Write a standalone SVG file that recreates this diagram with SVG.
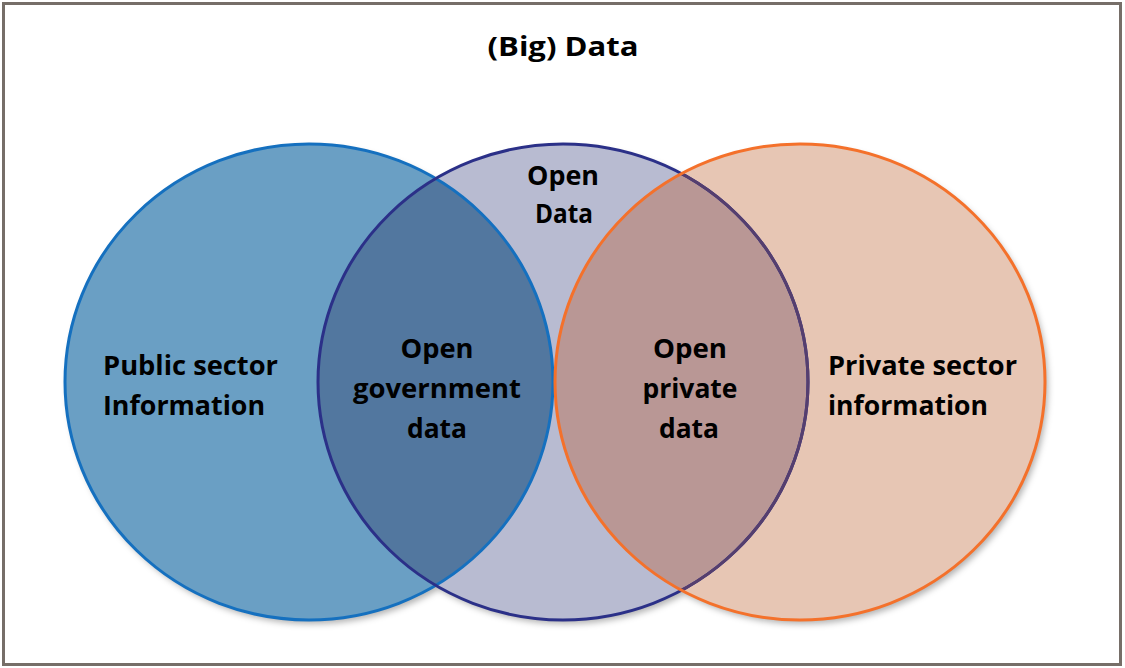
<svg xmlns="http://www.w3.org/2000/svg" width="1125" height="668" viewBox="0 0 1125 668">
<style>
.lbl{font-family:"Open Sans","Liberation Sans",sans-serif;font-weight:700;font-size:26px;fill:#000}
.mid{text-anchor:middle}
.ring{fill:none;stroke-width:3}
</style>
<defs>
<filter id="sh" x="-10%" y="-10%" width="125%" height="125%">
<feDropShadow dx="3" dy="4" stdDeviation="3" flood-color="#000" flood-opacity="0.3"/>
</filter>
<clipPath id="cpL"><ellipse cx="309" cy="382" rx="244" ry="238"/></clipPath>
<clipPath id="cpR"><ellipse cx="800" cy="382" rx="245" ry="238"/></clipPath>
</defs>
<rect id="frame" x="3.5" y="3.5" width="1117" height="661" fill="#fff" stroke="#766e68" stroke-width="3"/>
<text id="title" class="lbl mid" x="563" y="56" font-size="30" textLength="151" lengthAdjust="spacingAndGlyphs">(Big) Data</text>
<g id="shadows" filter="url(#sh)">
<ellipse cx="309" cy="382" rx="244" ry="238" fill="#fff"/>
<ellipse cx="563" cy="382" rx="245" ry="238" fill="#fff"/>
<ellipse cx="800" cy="382" rx="245" ry="238" fill="#fff"/>
</g>
<g id="public-sector">
<ellipse cx="309" cy="382" rx="244" ry="238" fill="#6a9fc4"/>
</g>
<g id="open-data">
<ellipse cx="563" cy="382" rx="245" ry="238" fill="#b8bbd1"/>
</g>
<g id="private-sector">
<ellipse cx="800" cy="382" rx="245" ry="238" fill="#e7c6b4"/>
</g>
<g id="open-government-data">
<ellipse cx="563" cy="382" rx="245" ry="238" fill="#52779f" clip-path="url(#cpL)"/>
</g>
<g id="open-private-data">
<ellipse cx="563" cy="382" rx="245" ry="238" fill="#b99795" clip-path="url(#cpR)"/>
</g>
<g id="outlines">
<ellipse class="ring" cx="309" cy="382" rx="244" ry="238" stroke="#1570bf"/>
<ellipse class="ring" cx="563" cy="382" rx="245" ry="238" stroke="#2b3088"/>
<ellipse class="ring" cx="563" cy="382" rx="245" ry="238" stroke="#553e6e" clip-path="url(#cpR)"/>
<ellipse class="ring" cx="800" cy="382" rx="245" ry="238" stroke="#f4712b"/>
</g>
<g id="connectors"></g>
<g id="labels">
<text class="lbl" x="103" y="375" textLength="175" lengthAdjust="spacingAndGlyphs">Public sector</text>
<text class="lbl" x="103" y="415" textLength="162" lengthAdjust="spacingAndGlyphs">Information</text>
<text class="lbl mid" x="563" y="185" textLength="72" lengthAdjust="spacingAndGlyphs">Open</text>
<text class="lbl mid" x="564" y="223" textLength="58" lengthAdjust="spacingAndGlyphs">Data</text>
<text class="lbl mid" x="437" y="358" textLength="73" lengthAdjust="spacingAndGlyphs">Open</text>
<text class="lbl mid" x="437" y="398" textLength="168" lengthAdjust="spacingAndGlyphs">government</text>
<text class="lbl mid" x="437" y="438" textLength="60" lengthAdjust="spacingAndGlyphs">data</text>
<text class="lbl mid" x="690" y="358" textLength="74" lengthAdjust="spacingAndGlyphs">Open</text>
<text class="lbl mid" x="690" y="398" textLength="95" lengthAdjust="spacingAndGlyphs">private</text>
<text class="lbl mid" x="689" y="438" textLength="60" lengthAdjust="spacingAndGlyphs">data</text>
<text class="lbl" x="828" y="375" textLength="189" lengthAdjust="spacingAndGlyphs">Private sector</text>
<text class="lbl" x="828" y="415" textLength="160" lengthAdjust="spacingAndGlyphs">information</text>
</g>
</svg>
